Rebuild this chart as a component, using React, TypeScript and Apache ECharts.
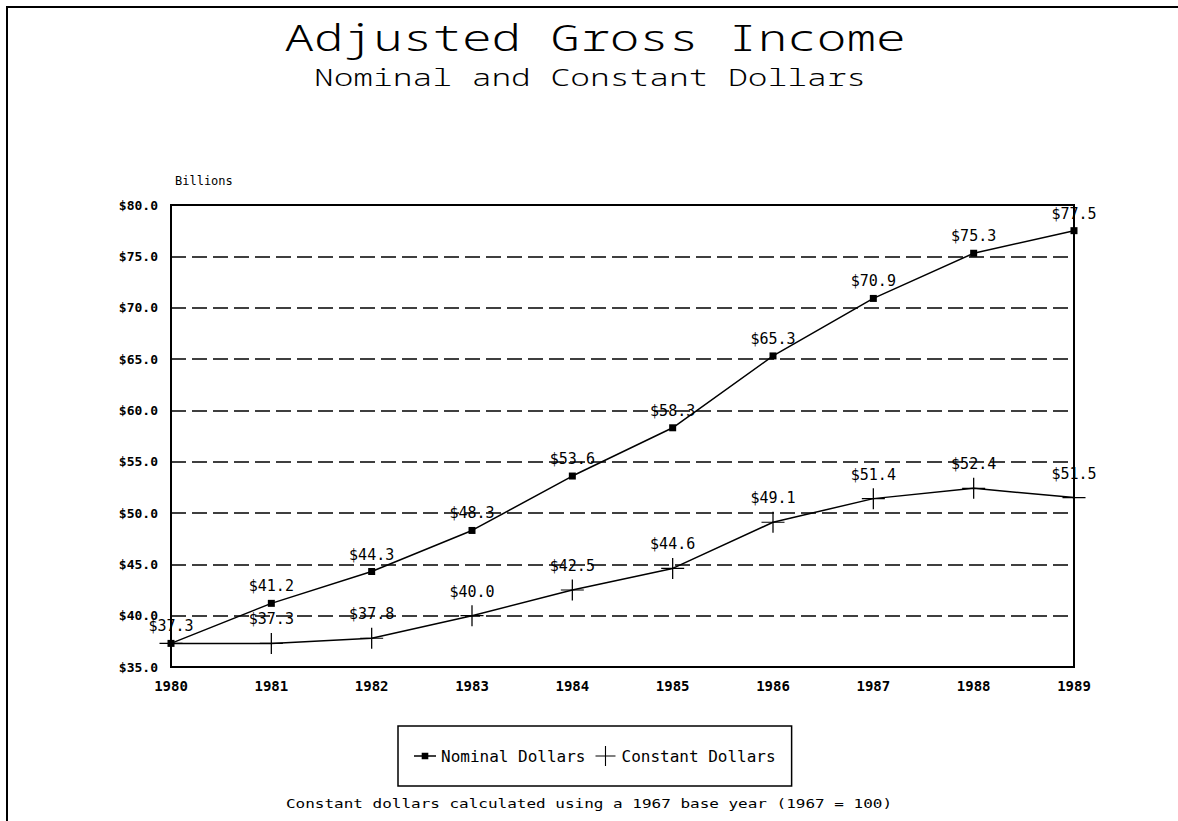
import React, { useEffect, useRef } from "react";
import * as echarts from "echarts";

const years = ["1980", "1981", "1982", "1983", "1984", "1985", "1986", "1987", "1988", "1989"];
const nominalDollars = [37.3, 41.2, 44.3, 48.3, 53.6, 58.3, 65.3, 70.9, 75.3, 77.5];
const constantDollars = [37.3, 37.3, 37.8, 40.0, 42.5, 44.6, 49.1, 51.4, 52.4, 51.5];
const titleText = "Adjusted Gross Income";
const subtitleText = "Nominal and Constant Dollars";
const unitText = "Billions";
const footnoteText = "Constant dollars calculated using a 1967 base year (1967 = 100)";

const MONO = "'DejaVu Sans Mono', 'Liberation Mono', monospace";
const THINMONO = "'Noto Sans Mono', 'DejaVu Sans Mono', monospace";
const PLUS = "path://M0,9.45H20V10.55H0Z M9.45,0H10.55V20H9.45Z";
const NOMINAL_ICON = "path://M0,9.4H20V10.6H0Z M7,7H13V13H7Z";

export default function App() {
  const ref = useRef<HTMLDivElement>(null);
  useEffect(() => {
    if (!ref.current) return;
    const chart = echarts.init(ref.current, null, { renderer: "svg" });
    const fmt = (v: number) => "$" + v.toFixed(1);
    const constantData = constantDollars.map((v, i) =>
      i === 0 ? { value: v, label: { show: false } } : v
    );
    chart.setOption({
      animation: false,
      backgroundColor: "#ffffff",
      textStyle: { fontFamily: MONO, color: "#000" },
      graphic: [
        {
          type: "rect",
          shape: { x: 7, y: 7, width: 1200, height: 900 },
          style: { fill: "none", stroke: "#000", lineWidth: 2 },
        },
        {
          type: "text",
          x: 595,
          y: 37,
          scaleX: 1.37,
          style: {
            text: titleText,
            fontFamily: THINMONO,
            fontWeight: 300,
            fontSize: 36,
            fill: "#000",
            align: "center",
            verticalAlign: "middle",
          },
        },
        {
          type: "text",
          x: 590,
          y: 77,
          scaleX: 1.43,
          style: {
            text: subtitleText,
            fontFamily: THINMONO,
            fontWeight: 300,
            fontSize: 23,
            fill: "#000",
            align: "center",
            verticalAlign: "middle",
          },
        },
        {
          type: "text",
          x: 175,
          y: 181,
          style: {
            text: unitText,
            fontFamily: MONO,
            fontSize: 12,
            fill: "#000",
            align: "left",
            verticalAlign: "middle",
          },
        },
        {
          type: "text",
          x: 589,
          y: 803,
          scaleX: 1.23,
          style: {
            text: footnoteText,
            fontFamily: MONO,
            fontSize: 13,
            fill: "#000",
            align: "center",
            verticalAlign: "middle",
          },
        },
      ],
      grid: {
        left: 171,
        right: 104,
        top: 205,
        bottom: 154,
        show: true,
        borderColor: "#000",
        borderWidth: 2,
        backgroundColor: "transparent",
      },
      legend: {
        left: 398,
        top: 726,
        orient: "horizontal",
        borderColor: "#000",
        borderWidth: 1.5,
        padding: [20, 16],
        itemGap: 10,
        itemWidth: 22,
        itemHeight: 20,
        textStyle: { fontFamily: MONO, fontSize: 16, color: "#000" },
        data: [
          { name: "Nominal Dollars", icon: NOMINAL_ICON, itemStyle: { color: "#000" } },
          { name: "Constant Dollars", icon: PLUS, itemStyle: { color: "#000" } },
        ],
      },
      xAxis: {
        type: "category",
        data: years,
        boundaryGap: false,
        axisLine: { show: true, lineStyle: { color: "#000", width: 2 } },
        axisTick: { show: false },
        axisLabel: {
          color: "#000",
          fontFamily: MONO,
          fontSize: 14,
          fontWeight: "bold",
          margin: 12,
        },
        splitLine: { show: false },
      },
      yAxis: {
        type: "value",
        min: 35,
        max: 80,
        interval: 5,
        axisLine: { show: true, lineStyle: { color: "#000", width: 2 } },
        axisTick: { show: false },
        axisLabel: {
          color: "#000",
          fontFamily: MONO,
          fontSize: 13,
          fontWeight: "bold",
          margin: 13,
          formatter: (v: number) => fmt(v),
        },
        splitLine: {
          show: true,
          lineStyle: { color: "#000", width: 1.5, type: [15, 6] },
        },
      },
      series: [
        {
          name: "Nominal Dollars",
          type: "line",
          data: nominalDollars,
          clip: false,
          symbol: "rect",
          symbolSize: 7,
          itemStyle: { color: "#000" },
          lineStyle: { color: "#000", width: 1.5 },
          label: {
            show: true,
            position: "top",
            distance: 6,
            color: "#000",
            fontFamily: MONO,
            fontSize: 15,
            formatter: (p: any) => fmt(p.value),
          },
          z: 3,
        },
        {
          name: "Constant Dollars",
          type: "line",
          data: constantData,
          clip: false,
          symbol: PLUS,
          symbolSize: [23, 21],
          itemStyle: { color: "#000" },
          lineStyle: { color: "#000", width: 1.5 },
          label: {
            show: true,
            position: "top",
            distance: 6,
            color: "#000",
            fontFamily: MONO,
            fontSize: 15,
            formatter: (p: any) => fmt(typeof p.value === "number" ? p.value : p.data.value),
          },
          z: 3,
        },
      ],
    });
    return () => chart.dispose();
  }, []);
  return (
    <div
      ref={ref}
      style={{ position: "fixed", left: 0, top: 0, width: 1178, height: 821, background: "#fff" }}
    />
  );
}
